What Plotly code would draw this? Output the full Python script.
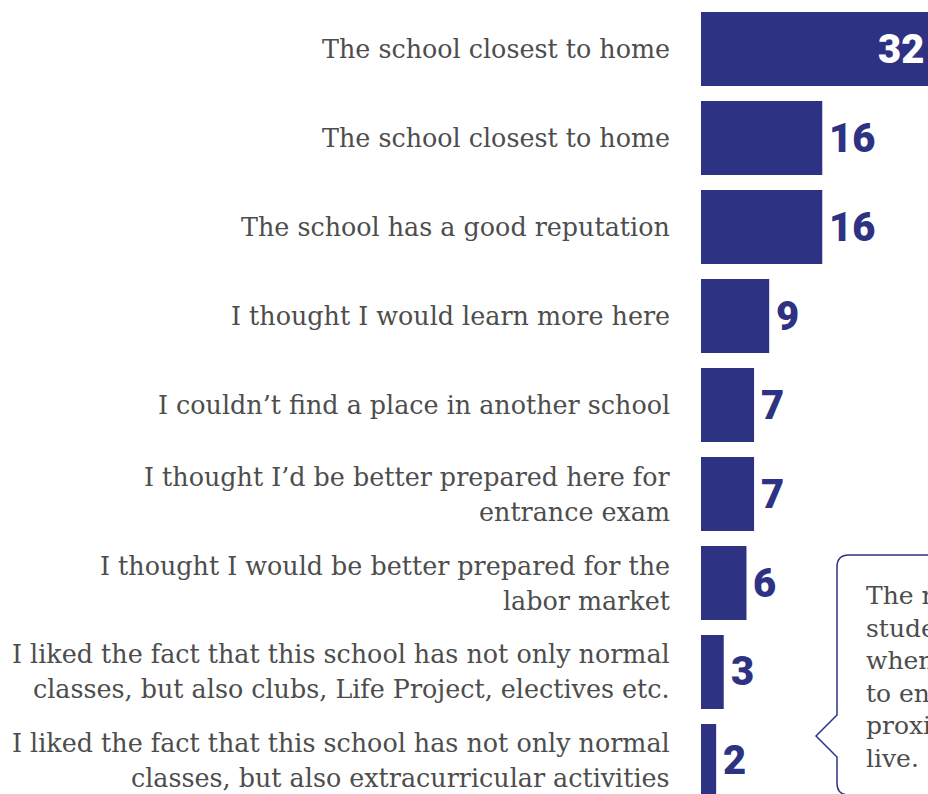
import plotly.graph_objects as go

categories = [
    "The school closest to home",
    "The school closest to home",
    "The school has a good reputation",
    "I thought I would learn more here",
    "I couldn’t find a place in another school",
    "I thought I’d be better prepared here for\nentrance exam",
    "I thought I would be better prepared for the\nlabor market",
    "I liked the fact that this school has not only normal\nclasses, but also clubs, Life Project, electives etc.",
    "I liked the fact that this school has not only normal\nclasses, but also extracurricular activities",
]
values = [32, 16, 16, 9, 7, 7, 6, 3, 2]
callout_lines = [
    "The main reason for",
    "students’ choice",
    "when deciding where",
    "to enroll was the",
    "proximity to where they",
    "live.",
]

W, H = 928, 794
ML = 701
BAR = "#2E3283"
GREY = "#4D4D4D"
LABEL_FONT = "DejaVu Serif"
LABEL_SIZE = 25.4
NUM_FONT = "Roboto"
XMAX = 29.95
idx = list(range(len(categories)))

fig = go.Figure(
    go.Bar(
        x=values,
        y=idx,
        orientation="h",
        marker=dict(color=BAR, line=dict(width=0)),
        width=0.83,
        hoverinfo="skip",
    )
)

annotations = []
for i, (cat, v) in enumerate(zip(categories, values)):
    lines = cat.split("\n")
    n = len(lines)
    for j, ln in enumerate(lines):
        annotations.append(dict(
            x=0, xref="paper", y=i, yref="y", text=ln, showarrow=False,
            xanchor="right", yanchor="middle", xshift=-29,
            yshift=-(j - (n - 1) / 2) * 35,
            font=dict(family=LABEL_FONT, size=LABEL_SIZE, color=GREY),
        ))
    if v > XMAX:
        annotations.append(dict(
            x=XMAX, y=i, xref="x", yref="y", text=str(v), showarrow=False,
            xanchor="right", yanchor="middle", xshift=-2,
            font=dict(family=NUM_FONT, size=40, color="white", weight=900),
        ))
    else:
        annotations.append(dict(
            x=v, y=i, xref="x", yref="y", text=str(v), showarrow=False,
            xanchor="left", yanchor="middle", xshift=5,
            font=dict(family=NUM_FONT, size=40, color=BAR, weight=900),
        ))


def px(x):
    return (x - ML) / (W - ML)


def py(y):
    return 1 - y / H


pts = [
    ("M", 1100, 555), ("L", 849, 555), ("Q", 837, 555, 837, 567), ("L", 837, 715),
    ("L", 816, 736), ("L", 837, 757), ("L", 837, 783), ("Q", 837, 795, 849, 795),
    ("L", 1100, 795),
]
path = ""
for p in pts:
    cmd, coords = p[0], p[1:]
    s = []
    for k in range(0, len(coords), 2):
        s.append(f"{px(coords[k]):.5f},{py(coords[k+1]):.5f}")
    path += cmd + " ".join(s) + " "

shapes = [dict(type="path", path=path.strip(), xref="paper", yref="paper",
               line=dict(color=BAR, width=1.5))]

annotations.append(dict(
    x=px(864), y=py(579), xref="paper", yref="paper", xanchor="left", yanchor="top",
    align="left", showarrow=False, text="<br>".join(callout_lines),
    font=dict(family=LABEL_FONT, size=25, color=GREY),
))

fig.update_layout(
    width=W, height=H,
    margin=dict(l=ML, r=0, t=0, b=0, pad=0),
    paper_bgcolor="white", plot_bgcolor="white",
    showlegend=False,
    xaxis=dict(range=[0, XMAX], visible=False, fixedrange=True),
    yaxis=dict(range=[8.371, -0.551], visible=False, fixedrange=True),
    annotations=annotations,
    shapes=shapes,
)

fig.write_html(
    "out.html",
    config={"displayModeBar": False},
    post_script="document.body.style.margin='0';document.body.style.overflow='hidden';",
)
